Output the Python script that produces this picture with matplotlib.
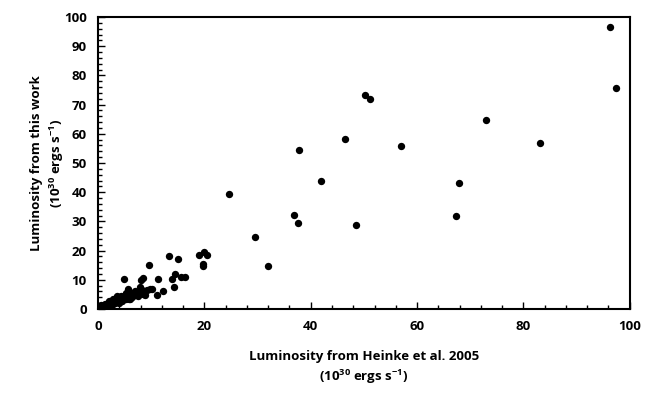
import matplotlib
matplotlib.use("Agg")
import matplotlib.pyplot as plt
from matplotlib.ticker import MultipleLocator

plt.rcParams['font.family'] = ['Open Sans', 'DejaVu Sans']
plt.rcParams['font.weight'] = 'bold'
plt.rcParams['mathtext.fontset'] = 'custom'
plt.rcParams['mathtext.bf'] = 'Open Sans:bold'
plt.rcParams['mathtext.default'] = 'bf'

# luminosity from Heinke et al. 2005 (x) vs this work (y), 10^30 ergs/s
heinke = [0.1, 0.2, 0.3, 0.4, 0.5, 0.6, 0.7, 0.8, 0.9, 1.0, 1.1, 1.2, 1.3, 1.4, 1.5, 1.6,
          1.8, 1.9, 2.0, 2.1, 2.3, 2.4, 2.6, 2.7, 2.9, 3.0, 3.2, 3.3, 3.5, 3.6, 3.8, 3.9,
          4.1, 4.2, 4.4, 4.5, 4.7, 4.9, 5.0, 5.2, 5.3, 5.5, 5.7, 5.8, 6.0, 6.1, 6.3, 6.4,
          6.6, 6.8, 7.0, 7.3, 7.5, 7.9, 8.0, 8.2, 8.4, 8.5, 8.8, 9.2, 9.5, 9.8, 10.2,
          11.0, 12.3, 11.2, 13.4, 15.1, 14.5, 14.0, 14.3, 15.6, 16.4, 18.9, 20.0, 20.5,
          19.7, 19.8,
          24.7, 29.6, 32.0, 36.9, 37.6, 37.8, 42.0, 46.5, 48.6, 50.2, 51.2, 57.0, 67.4,
          67.9, 72.9, 83.1, 96.2, 97.5]
this_work = [0.2, 0.5, 0.1, 0.8, 0.3, 1.2, 0.6, 0.2, 1.0, 0.5, 1.5, 0.9, 0.3, 1.8, 1.1, 0.7,
             2.0, 1.3, 2.6, 0.9, 1.7, 2.9, 2.2, 1.4, 3.3, 2.5, 1.9, 3.8, 2.8, 4.3, 3.2, 2.1,
             4.0, 3.0, 4.6, 2.6, 3.7, 10.3, 4.9, 3.3, 5.6, 4.1, 6.7, 3.5, 3.5, 4.8, 5.5, 4.2,
             4.7, 5.2, 6.0, 5.8, 4.5, 7.5, 9.9, 6.4, 5.1, 10.6, 4.7, 6.4, 15.2, 7.0, 6.8,
             4.7, 6.1, 10.4, 18.2, 17.0, 12.1, 10.2, 7.5, 11.1, 11.0, 18.5, 19.6, 18.5,
             15.4, 14.7,
             39.3, 24.6, 14.6, 32.1, 29.3, 54.3, 43.7, 58.1, 28.7, 73.3, 71.8, 55.7, 31.7,
             43.0, 64.6, 56.7, 96.5, 75.6]

fig = plt.figure(figsize=(6.58, 3.99), dpi=100)
ax = fig.add_axes([0.149, 0.2256, 0.808, 0.7318])
ax.scatter(heinke, this_work, s=28, color='black', zorder=3, linewidths=0)

ax.set_xlim(0, 100)
ax.set_ylim(0, 100)
ax.xaxis.set_major_locator(MultipleLocator(20))
ax.xaxis.set_minor_locator(MultipleLocator(4))
ax.yaxis.set_major_locator(MultipleLocator(10))
ax.yaxis.set_minor_locator(MultipleLocator(2))
ax.tick_params(which='both', direction='in', width=1, labelsize=9.5)
ax.tick_params(which='major', length=5, pad=8)
ax.tick_params(which='minor', length=3)
for sp in ax.spines.values():
    sp.set_linewidth(1.5)

ax.set_xlabel('Luminosity from Heinke et al. 2005\n(10$^{30}$ ergs s$^{-1}$)',
              fontsize=9.5, fontweight='bold', labelpad=12, linespacing=1.35)
ax.set_ylabel('Luminosity from this work\n(10$^{30}$ ergs s$^{-1}$)',
              fontsize=9.5, fontweight='bold', linespacing=1.35)
ax.yaxis.set_label_coords(-0.06, 0.5)

fig.savefig('out.png', dpi=100)
